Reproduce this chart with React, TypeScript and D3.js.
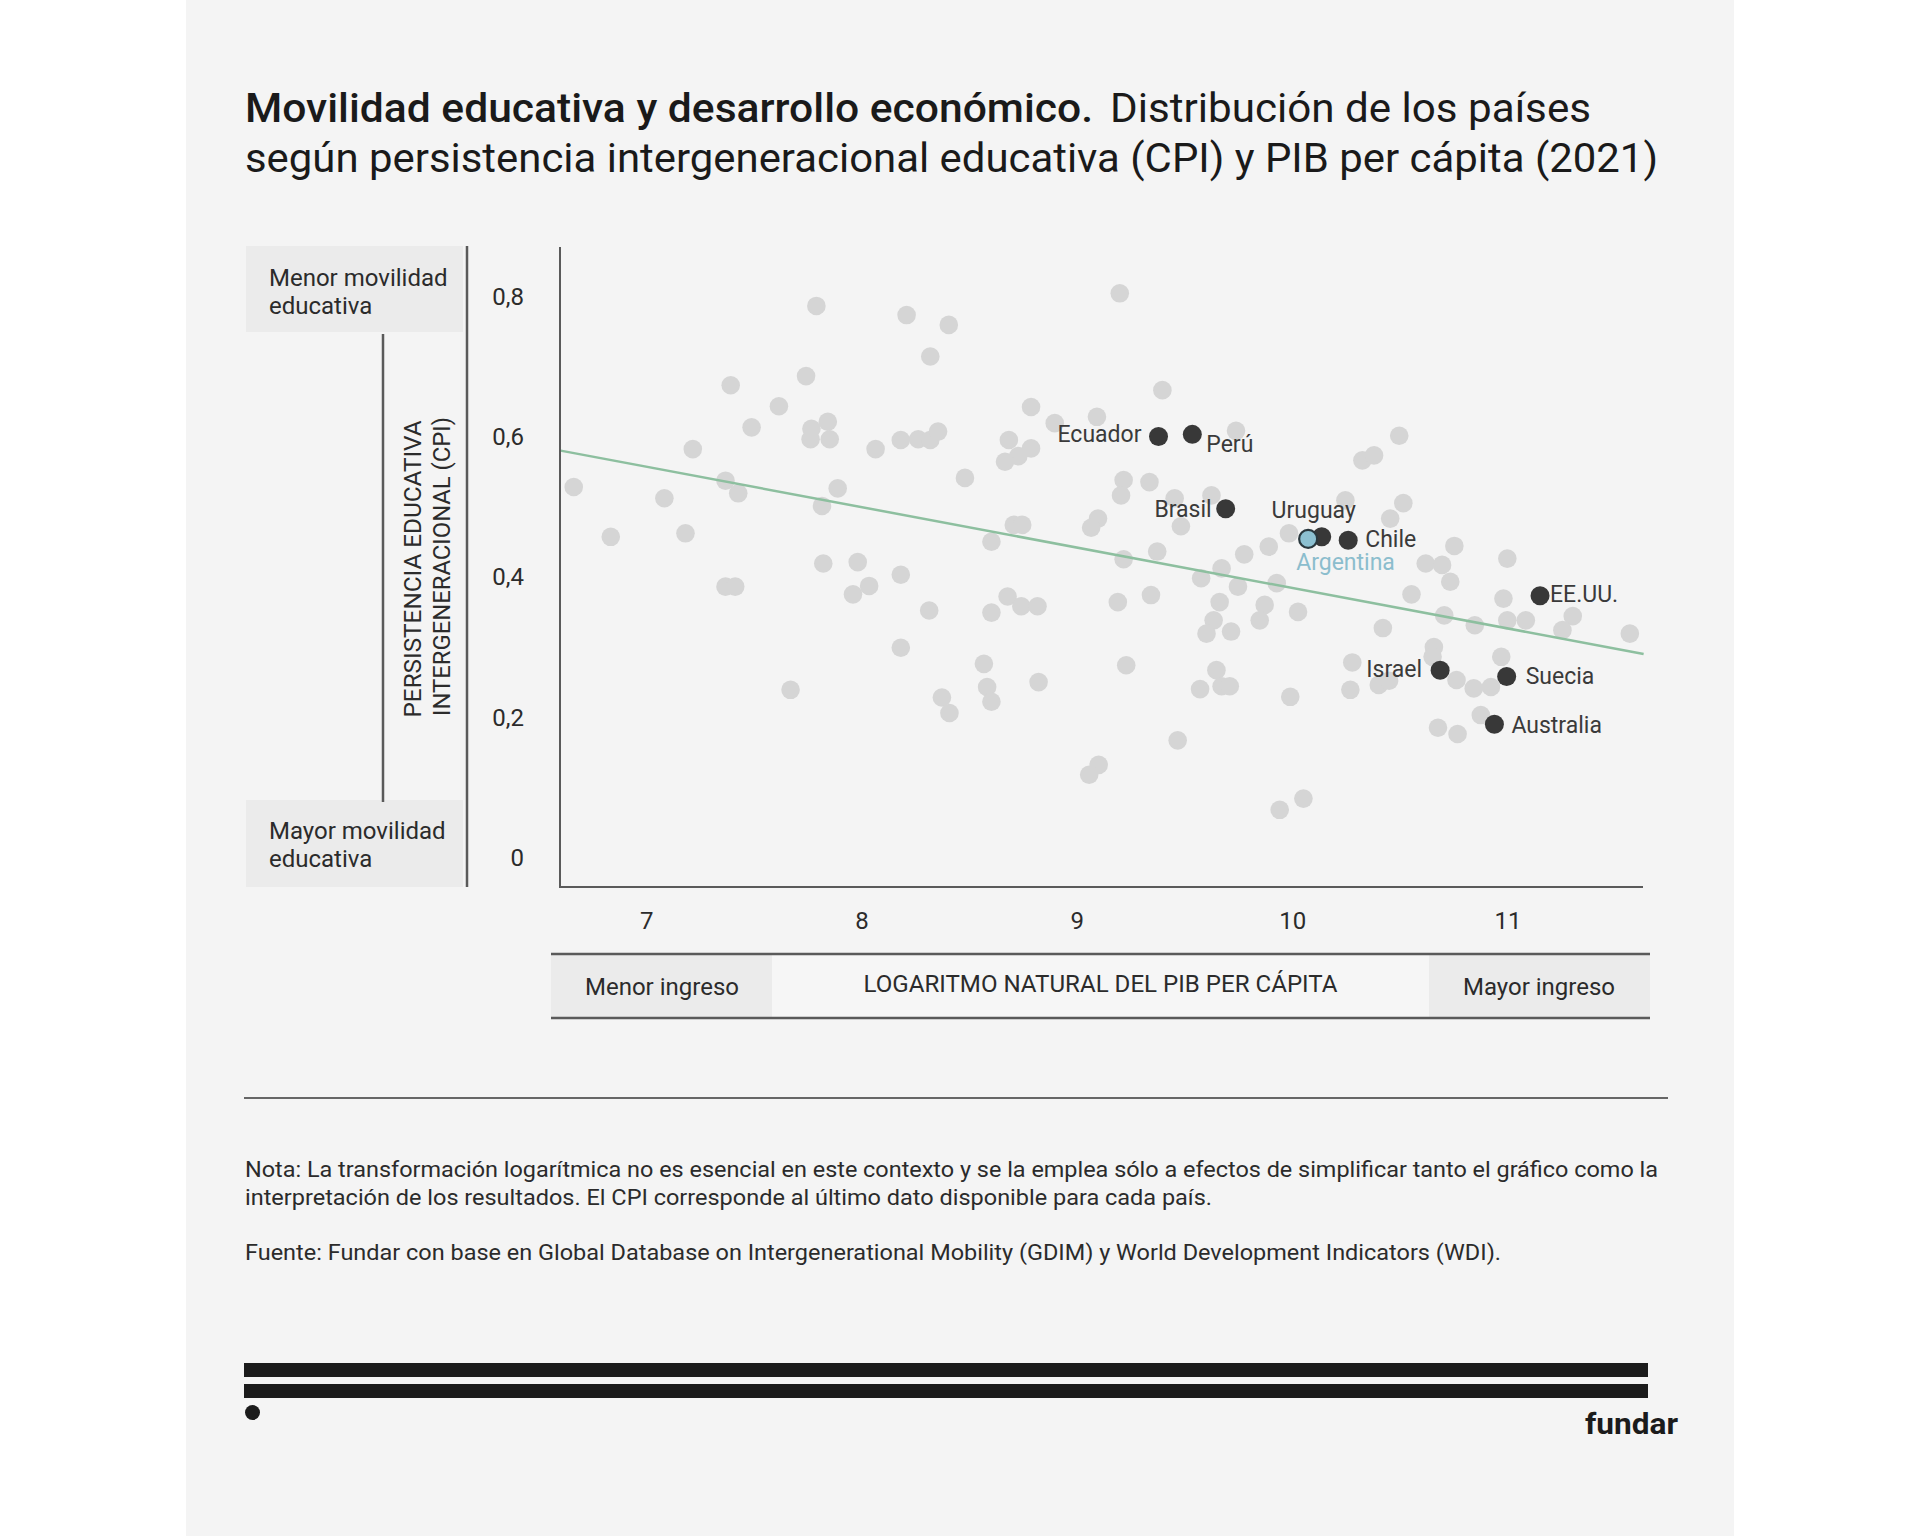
import React from "react";
import * as d3 from "d3";

// ---------- DATA ----------
const grayX = [
  7.788, 8.207, 8.403, 8.317, 7.740, 7.390, 7.614, 7.487, 7.765, 7.841,
  7.761, 7.850, 7.214, 8.063, 8.180, 8.261, 8.317, 8.353, 8.785, 8.895,
  9.091, 9.197, 8.682, 8.785, 8.726, 8.664, 8.478, 6.661, 7.366, 7.425,
  7.082, 7.887, 7.814, 6.833, 7.180, 9.215, 9.203, 9.096, 9.064, 8.705,
  8.744, 8.601, 9.215, 7.820, 7.980, 8.180, 7.366, 7.411, 7.958, 8.033,
  8.312, 8.601, 8.676, 8.740, 8.815, 9.188, 8.180,
  8.566, 8.581, 8.601, 8.371, 8.406, 7.668, 8.820, 9.227, 9.099, 9.055,
  9.395, 9.737, 10.495, 10.324, 10.378, 9.335, 9.623, 9.452, 9.481, 10.245,
  10.514, 10.453, 9.983, 9.371, 9.775, 9.889, 10.751, 10.997, 10.618, 10.694,
  10.732, 9.670, 9.575, 9.746, 9.926, 10.552, 10.979, 9.342, 9.661, 9.870,
  9.633, 9.847, 10.025, 9.600, 9.714, 10.419, 10.704, 10.846, 10.997, 11.083,
  11.301, 11.253, 11.566,
  9.646, 9.570, 9.670, 9.708, 9.989, 9.466, 10.050, 9.940, 10.277, 10.268,
  10.400, 10.448, 10.656, 10.650, 10.761, 10.841, 10.921, 10.969, 10.874, 10.675,
  10.766,
];
const grayY = [
  0.786, 0.773, 0.759, 0.714, 0.686, 0.673, 0.643, 0.613, 0.611, 0.621,
  0.596, 0.596, 0.582, 0.582, 0.595, 0.596, 0.595, 0.607, 0.642, 0.619,
  0.628, 0.804, 0.595, 0.583, 0.572, 0.564, 0.541, 0.528, 0.537, 0.519,
  0.512, 0.526, 0.501, 0.457, 0.462, 0.538, 0.516, 0.483, 0.470, 0.474,
  0.474, 0.450, 0.425, 0.419, 0.421, 0.403, 0.386, 0.386, 0.375, 0.387,
  0.352, 0.349, 0.372, 0.358, 0.358, 0.364, 0.299,
  0.276, 0.243, 0.222, 0.228, 0.206, 0.239, 0.250, 0.274, 0.132, 0.118,
  0.666, 0.608, 0.601, 0.566, 0.573, 0.535, 0.516, 0.512, 0.472, 0.509,
  0.505, 0.483, 0.462, 0.436, 0.432, 0.443, 0.444, 0.426, 0.419, 0.417,
  0.393, 0.412, 0.398, 0.386, 0.391, 0.375, 0.369, 0.374, 0.364, 0.360,
  0.338, 0.338, 0.350, 0.319, 0.322, 0.327, 0.345, 0.331, 0.338, 0.338,
  0.344, 0.324, 0.319,
  0.267, 0.240, 0.244, 0.244, 0.229, 0.167, 0.084, 0.068, 0.278, 0.239,
  0.246, 0.252, 0.300, 0.286, 0.253, 0.241, 0.243, 0.286, 0.203, 0.185,
  0.176,
];

const countryNames = ["Ecuador", "Perú", "Brasil", "Uruguay", "Chile", "EE.UU.", "Israel", "Suecia", "Australia"];
const countryX = [9.377, 9.534, 9.689, 10.135, 10.258, 11.149, 10.685, 10.994, 10.937];
const countryY = [0.600, 0.603, 0.497, 0.457, 0.452, 0.373, 0.267, 0.258, 0.190];

const argentinaName = "Argentina";
const argentinaX = 10.072;
const argentinaY = 0.454;

const xTicks = [7, 8, 9, 10, 11];
const yTicks = [0, 0.2, 0.4, 0.6, 0.8];

const trendSlope = -0.0576;
const trendIntercept = 0.96;

const titleBold = "Movilidad educativa y desarrollo económico.";
const titleRest1 = "Distribución de los países";
const titleLine2 = "según persistencia intergeneracional educativa (CPI) y PIB per cápita (2021)";
const yLabel1 = "PERSISTENCIA EDUCATIVA";
const yLabel2 = "INTERGENERACIONAL (CPI)";
const yTopBox = ["Menor movilidad", "educativa"];
const yBottomBox = ["Mayor movilidad", "educativa"];
const xLabel = "LOGARITMO NATURAL DEL PIB PER CÁPITA";
const xLeftBox = "Menor ingreso";
const xRightBox = "Mayor ingreso";
const note1 = "Nota: La transformación logarítmica no es esencial en este contexto y se la emplea sólo a efectos de simplificar tanto el gráfico como la";
const note2 = "interpretación de los resultados. El CPI corresponde al último dato disponible para cada país.";
const source = "Fuente: Fundar con base en Global Database on Intergenerational Mobility (GDIM) y World Development Indicators (WDI).";
const brand = "fundar";

// ---------- STYLE / LAYOUT ----------
const FONT = "Roboto, 'Noto Sans', Arial, sans-serif";
const labelLayout: Record<string, { dx: number; dy: number; anchor: string }> = {
  Ecuador: { dx: -17, dy: 6, anchor: "end" },
  "Perú": { dx: 14, dy: 18, anchor: "start" },
  Brasil: { dx: -14, dy: 8, anchor: "end" },
  Uruguay: { dx: -8, dy: -19, anchor: "middle" },
  Chile: { dx: 17, dy: 7, anchor: "start" },
  "EE.UU.": { dx: 10, dy: 6, anchor: "start" },
  Israel: { dx: -18, dy: 7, anchor: "end" },
  Suecia: { dx: 19, dy: 8, anchor: "start" },
  Australia: { dx: 17, dy: 9, anchor: "start" },
};

export default function App() {
  const x = d3.scaleLinear().domain([6.6, 11.63]).range([560.6, 1643.6]);
  const y = d3.scaleLinear().domain([-0.042, 0.87]).range([887, 247]);
  const fmt = d3
    .formatLocale({ decimal: ",", thousands: ".", grouping: [3], currency: ["$", ""] })
    .format(".1~f");

  const trend = d3
    .line<number>()
    .x((d) => x(d))
    .y((d) => y(trendIntercept + trendSlope * d));

  const axisColor = "#5a5a5a";
  const textColor = "#2b2b2b";
  const boxFill = "#ebebeb";

  return (
    <svg
      width={1920}
      height={1536}
      style={{ position: "absolute", left: 0, top: 0, background: "#ffffff" }}
      fontFamily={FONT}
    >
      <rect x={186} y={0} width={1548} height={1536} fill="#f4f4f4" />

      {/* Title */}
      <text x={245} y={122} fontSize={41} fontWeight={500} fill="#1a1a1a" textLength={848} lengthAdjust="spacingAndGlyphs">
        {titleBold}
      </text>
      <text x={1110} y={122} fontSize={41} fontWeight={400} fill="#1a1a1a" textLength={481} lengthAdjust="spacingAndGlyphs">
        {titleRest1}
      </text>
      <text x={245} y={172} fontSize={41} fontWeight={400} fill="#1a1a1a" textLength={1413} lengthAdjust="spacingAndGlyphs">
        {titleLine2}
      </text>

      {/* Left y-label boxes */}
      <rect x={246} y={246} width={217} height={86} fill={boxFill} />
      <rect x={246} y={800} width={217} height={87} fill={boxFill} />
      <text x={269} y={285.5} fontSize={24} fill={textColor}>{yTopBox[0]}</text>
      <text x={269} y={313.5} fontSize={24} fill={textColor}>{yTopBox[1]}</text>
      <text x={269} y={839} fontSize={24} fill={textColor}>{yBottomBox[0]}</text>
      <text x={269} y={866.5} fontSize={24} fill={textColor}>{yBottomBox[1]}</text>
      <line x1={467} x2={467} y1={246} y2={887} stroke={axisColor} strokeWidth={2.5} />
      <line x1={383} x2={383} y1={334} y2={802} stroke={axisColor} strokeWidth={2.5} />
      <text
        transform="translate(420.5,569) rotate(-90)"
        textAnchor="middle"
        fontSize={24}
        fill={textColor}
        textLength={297}
        lengthAdjust="spacingAndGlyphs"
      >
        {yLabel1}
      </text>
      <text
        transform="translate(449.5,566.5) rotate(-90)"
        textAnchor="middle"
        fontSize={24}
        fill={textColor}
        textLength={299}
        lengthAdjust="spacingAndGlyphs"
      >
        {yLabel2}
      </text>

      {/* Y tick labels */}
      {yTicks.map((t) => (
        <text key={t} x={524} y={y(t) + 8.5} textAnchor="end" fontSize={24} fill={textColor}>
          {fmt(t)}
        </text>
      ))}

      {/* X tick labels */}
      {xTicks.map((t) => (
        <text key={t} x={x(t)} y={929} textAnchor="middle" fontSize={24} fill={textColor}>
          {t}
        </text>
      ))}

      {/* Gray points */}
      {grayX.map((gx, i) => (
        <circle key={i} cx={x(gx)} cy={y(grayY[i])} r={9.3} fill="#d5d5d5" />
      ))}

      {/* Trend line */}
      <path d={trend(x.domain()) || ""} fill="none" stroke="#8dbf9f" strokeWidth={2.5} />

      {/* Highlighted countries */}
      {countryNames.map((name, i) => {
        const cx = x(countryX[i]);
        const cy = y(countryY[i]);
        const lay = labelLayout[name];
        return (
          <g key={name}>
            <circle cx={cx} cy={cy} r={9.5} fill="#383838" />
            <text x={cx + lay.dx} y={cy + lay.dy} textAnchor={lay.anchor as any} fontSize={23} fill="#3a3a3a">
              {name}
            </text>
          </g>
        );
      })}

      {/* Argentina */}
      <circle cx={x(argentinaX)} cy={y(argentinaY)} r={9} fill="#8cc0d1" stroke="#2a383e" strokeWidth={2.2} />
      <text x={x(argentinaX) - 12} y={y(argentinaY) + 31} fontSize={23} fill="#8bbdcd">
        {argentinaName}
      </text>

      {/* Axes */}
      <line x1={560} x2={560} y1={247} y2={887} stroke={axisColor} strokeWidth={2} />
      <line x1={559} x2={1643} y1={887} y2={887} stroke={axisColor} strokeWidth={2} />

      {/* X label band */}
      <rect x={772} y={955} width={657} height={62} fill="#f6f6f6" />
      <rect x={551} y={955} width={221} height={62} fill={boxFill} />
      <rect x={1429} y={955} width={221} height={62} fill={boxFill} />
      <line x1={551} x2={1650} y1={954} y2={954} stroke={axisColor} strokeWidth={2.5} />
      <line x1={551} x2={1650} y1={1018} y2={1018} stroke={axisColor} strokeWidth={2.5} />
      <text x={662} y={995} textAnchor="middle" fontSize={24} fill={textColor}>{xLeftBox}</text>
      <text x={1539} y={995} textAnchor="middle" fontSize={24} fill={textColor}>{xRightBox}</text>
      <text x={1100.5} y={992} textAnchor="middle" fontSize={24} fill={textColor} textLength={474} lengthAdjust="spacingAndGlyphs">
        {xLabel}
      </text>

      {/* Separator */}
      <line x1={244} x2={1668} y1={1098} y2={1098} stroke="#666" strokeWidth={2} />

      {/* Notes */}
      <text x={245} y={1177} fontSize={22} fill={textColor} textLength={1413} lengthAdjust="spacingAndGlyphs">{note1}</text>
      <text x={245} y={1205} fontSize={22} fill={textColor} textLength={967} lengthAdjust="spacingAndGlyphs">{note2}</text>
      <text x={245} y={1260} fontSize={22} fill={textColor} textLength={1256} lengthAdjust="spacingAndGlyphs">{source}</text>

      {/* Footer */}
      <rect x={244} y={1363} width={1404} height={14} fill="#1b1b1b" />
      <rect x={244} y={1384} width={1404} height={14} fill="#1b1b1b" />
      <circle cx={252.5} cy={1412.5} r={7.5} fill="#1b1b1b" />
      <text x={1585} y={1434} fontSize={29} fontWeight={700} fill="#1b1b1b" textLength={93} lengthAdjust="spacingAndGlyphs">
        {brand}
      </text>
    </svg>
  );
}
